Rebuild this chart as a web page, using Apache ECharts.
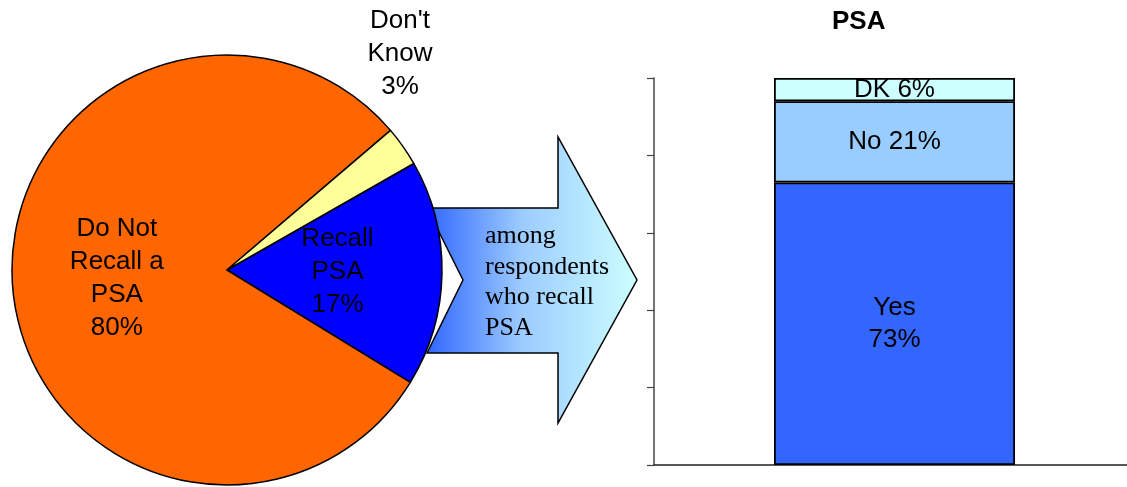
<!DOCTYPE html>
<html>
<head>
<meta charset="utf-8">
<script src="https://cdn.jsdelivr.net/npm/echarts@6/dist/echarts.min.js"></script>
<style>
  html, body { margin: 0; padding: 0; background: #ffffff; }
  #chart { width: 1127px; height: 487px; }
</style>
</head>
<body>
<div id="chart"></div>
<script>
// Recall of the PSA among all respondents (pie)
const pieNames  = ['Recall\nPSA', 'Do Not\nRecall a\nPSA', "Don't\nKnow"];
const pieValues = [17, 80, 3];
const pieColors = ['#0000ff', '#ff6600', '#ffff99'];

// Among those who recall the PSA (stacked bar)
const barCategory = ['PSA'];
const barNames    = ['Yes', 'No', 'DK'];
const barValues   = [73, 21, 6];
const barColors   = ['#3366ff', '#99ccff', '#ccffff'];
const barLabelSep = ['\n', ' ', ' '];

// Value axis ticks (no labels drawn)
const yTicks = [0, 20, 40, 60, 80, 100];

const FONT = '"Liberation Sans", Arial, sans-serif';

const chart = echarts.init(document.getElementById('chart'), null, { renderer: 'canvas' });

const barSeries = barNames.map((name, i) => ({
  type: 'bar',
  name: name,
  stack: 'psa',
  xAxisIndex: 0,
  yAxisIndex: 0,
  barWidth: 241,
  data: [barValues[i]],
  itemStyle: { color: barColors[i], borderColor: '#000', borderWidth: 1.8 },
  label: {
    show: true,
    position: 'inside',
    color: '#000',
    fontFamily: FONT,
    fontSize: 26,
    lineHeight: 32,
    formatter: () => name + barLabelSep[i] + barValues[i] + '%'
  },
  z: 3
}));

chart.setOption({
  animation: false,
  backgroundColor: '#ffffff',
  title: {
    text: barCategory[0],
    left: 832,
    top: 9,
    padding: 0,
    textStyle: { fontFamily: FONT, fontSize: 26, fontWeight: 'bold', color: '#000' }
  },
  grid: { left: 654, top: 78, width: 481, height: 387, outerBoundsMode: 'none', containLabel: false },
  xAxis: {
    type: 'category',
    data: barCategory,
    axisLine: { show: true, lineStyle: { color: '#222', width: 1.5 } },
    axisTick: { show: false },
    axisLabel: { show: false },
    splitLine: { show: false }
  },
  yAxis: {
    type: 'value',
    min: yTicks[0],
    max: yTicks[yTicks.length - 1],
    interval: yTicks[1] - yTicks[0],
    axisLine: { show: true, lineStyle: { color: '#444', width: 1.5 } },
    axisTick: { show: true, inside: false, length: 7, lineStyle: { color: '#444', width: 1.2 } },
    axisLabel: { show: false },
    splitLine: { show: false }
  },
  graphic: [
    {
      // notched block arrow leading from the pie to the bar
      type: 'polygon',
      z: 0,
      shape: {
        points: [
          [427, 208], [558, 208], [558, 137], [637, 280],
          [558, 423], [558, 353], [427, 353], [463, 280]
        ]
      },
      style: {
        fill: new echarts.graphic.LinearGradient(0, 0, 1, 0, [
          { offset: 0, color: '#2f66ff' },
          { offset: 0.45, color: '#9ccbff' },
          { offset: 1, color: '#ccffff' }
        ]),
        stroke: '#000',
        lineWidth: 1.5
      }
    },
    {
      type: 'text',
      z: 1,
      left: 485,
      top: 221,
      style: {
        text: 'among\nrespondents\nwho recall\nPSA',
        fontFamily: '"Liberation Serif", "Times New Roman", serif',
        fontSize: 26,
        lineHeight: 30.5,
        fill: '#000'
      }
    }
  ],
  series: [
    {
      type: 'pie',
      center: [227, 270],
      radius: 215,
      startAngle: 29.7,
      clockwise: true,
      avoidLabelOverlap: false,
      z: 2,
      data: pieNames.map((n, i) => ({
        name: n,
        value: pieValues[i],
        itemStyle: { color: pieColors[i] },
        label: i === 2 ? { position: 'outside' } : undefined
      })),
      itemStyle: { borderColor: '#000', borderWidth: 1.5 },
      label: {
        show: true,
        position: 'inside',
        color: '#000',
        fontFamily: FONT,
        fontSize: 26,
        lineHeight: 33,
        formatter: p => p.name + '\n' + p.value + '%'
      },
      labelLine: { show: false },
      labelLayout: function (params) {
        // the small "Don't Know" slice carries its label above the pie
        if (params.dataIndex === 2) {
          return { x: 400, y: 54, align: 'center', verticalAlign: 'middle' };
        }
      },
      emphasis: { disabled: true }
    }
  ].concat(barSeries)
});
</script>
</body>
</html>
